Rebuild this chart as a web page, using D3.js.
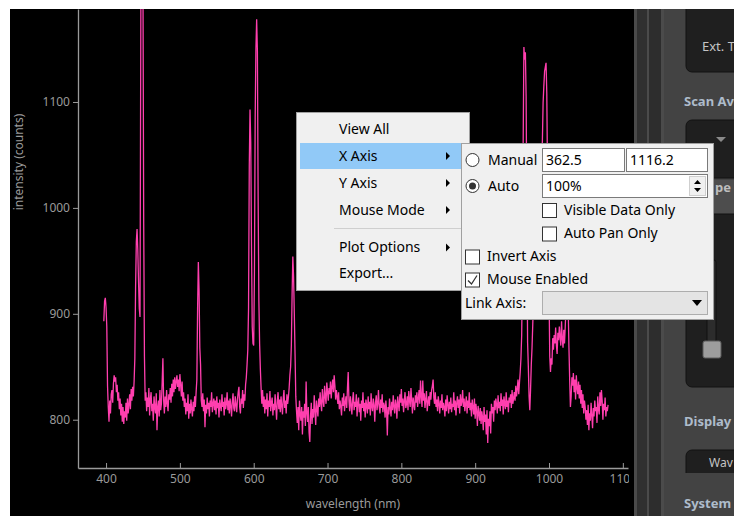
<!DOCTYPE html>
<meta charset="utf-8">
<style>
body { margin: 0; background: #fff; }
text { font-family: "Noto Sans", "DejaVu Sans", sans-serif; }
</style>
<body>
<script src="https://d3js.org/d3.v7.min.js"></script>
<script>

// spectrum, one value per nm starting at 397 nm
var wavelengthStart = 397, wavelengthStep = 1;
var intensity = [
  893, 912, 915, 906, 888, 832, 812, 798, 818, 806,   // 397
  824, 828, 816, 834, 842, 836, 840, 826, 833, 818,   // 407
  826, 810, 820, 804, 815, 798, 812, 796, 808, 802,   // 417
  816, 799, 820, 806, 814, 824, 810, 829, 818, 831,   // 427
  822, 836, 858, 925, 968, 980, 960, 930, 905, 897,   // 437
  1150, 1420, 1380, 1210, 985, 860, 818, 826, 808, 821, // 447
  812, 830, 804, 819, 826, 808, 815, 799, 822, 811,   // 457
  806, 825, 790, 812, 818, 803, 828, 809, 815, 835,   // 467
  858, 818, 806, 822, 812, 828, 815, 808, 824, 819,   // 477
  830, 816, 834, 822, 838, 826, 840, 829, 836, 842,   // 487
  831, 838, 827, 843, 833, 822, 836, 818, 826, 812,   // 497
  820, 805, 816, 808, 824, 801, 815, 806, 819, 810,   // 507
  803, 817, 808, 822, 812, 826, 838, 905, 949, 922,   // 517
  868, 852, 818, 812, 825, 808, 819, 793, 814, 806,   // 527
  821, 810, 816, 803, 818, 812, 826, 807, 815, 820,   // 537
  809, 818, 805, 822, 811, 816, 802, 819, 813, 808,   // 547
  824, 812, 817, 804, 821, 810, 815, 826, 809, 818,   // 557
  806, 820, 813, 803, 817, 825, 811, 808, 822, 814,   // 567
  807, 819, 826, 831, 812, 806, 820, 815, 828, 811,   // 577
  824, 818, 833, 840, 852, 866, 905, 1040, 1093, 1062, // 587
  965, 888, 872, 870, 940, 1085, 1150, 1178, 1148, 1010, // 597
  912, 872, 848, 830, 815, 828, 812, 822, 806, 819,   // 607
  810, 825, 803, 818, 812, 827, 808, 816, 821, 804,   // 617
  815, 809, 824, 812, 800, 818, 826, 810, 819, 807,   // 627
  822, 813, 805, 820, 828, 811, 818, 806, 824, 815,   // 637
  821, 830, 842, 850, 870, 918, 954, 935, 900, 862,   // 647
  822, 808, 797, 812, 790, 818, 805, 799, 812, 786,   // 657
  808, 802, 815, 794, 836, 806, 798, 812, 788, 779,   // 667
  804, 816, 796, 810, 802, 823, 808, 795, 818, 810,   // 677
  803, 820, 812, 826, 815, 808, 829, 818, 812, 832,   // 687
  822, 815, 835, 826, 818, 830, 824, 836, 820, 831,   // 697
  838, 826, 842, 832, 819, 828, 822, 815, 826, 810,   // 707
  818, 812, 804, 821, 813, 825, 808, 816, 822, 811,   // 717
  830, 845, 818, 808, 822, 814, 805, 819, 826, 809,   // 727
  817, 812, 824, 803, 816, 821, 807, 815, 799, 818,   // 737
  811, 826, 808, 816, 802, 819, 813, 806, 822, 810,   // 747
  817, 804, 825, 812, 808, 820, 814, 798, 816, 823,   // 757
  809, 815, 828, 812, 806, 819, 811, 824, 807, 816,   // 767
  813, 802, 818, 809, 785, 812, 805, 820, 811, 803,   // 777
  817, 809, 823, 812, 806, 819, 814, 801, 822, 815,   // 787
  808, 824, 816, 829, 813, 820, 807, 818, 826, 811,   // 797
  815, 822, 809, 827, 818, 812, 830, 819, 806, 821,   // 807
  814, 809, 823, 816, 826, 812, 820, 828, 815, 837,   // 817
  822, 812, 837, 818, 825, 811, 819, 827, 808, 816,   // 827
  822, 813, 826, 819, 828, 832, 838, 821, 815, 826,   // 837
  812, 819, 808, 822, 815, 806, 818, 811, 824, 809,   // 847
  816, 812, 803, 819, 808, 823, 814, 806, 817, 810,   // 857
  821, 807, 815, 812, 826, 809, 818, 804, 816, 822,   // 867
  811, 819, 806, 824, 813, 817, 828, 812, 820, 808,   // 877
  815, 822, 806, 818, 811, 826, 809, 816, 803, 819,   // 887
  812, 805, 820, 801, 815, 808, 794, 813, 806, 799,   // 897
  811, 796, 808, 802, 790, 812, 798, 805, 786, 809,   // 907
  778, 801, 794, 808, 787, 815, 806, 812, 798, 818,   // 917
  809, 820, 814, 806, 823, 811, 817, 808, 825, 813,   // 927
  819, 805, 822, 815, 810, 826, 812, 818, 807, 821,   // 937
  816, 824, 811, 828, 815, 820, 826, 818, 832, 822,   // 947
  829, 838, 824, 835, 845, 858, 880, 940, 1060, 1152, // 957
  1140, 1147, 1105, 990, 873, 850, 822, 809, 828, 852, // 967
  868, 890, 912, 935, 960, 985, 1005, 1020, 1032, 1041, // 977
  1048, 1052, 1055, 1058, 1062, 1099, 1115, 1129, 1133, 1137, // 987
  1108, 1030, 960, 920, 860, 845, 858, 852, 877, 866, // 997
  880, 872, 887, 870, 862, 882, 875, 888, 878, 870,   // 1007
  893, 876, 868, 885, 872, 888, 905, 932, 940, 905,   // 1017
  868, 838, 812, 822, 840, 832, 844, 826, 838, 819,   // 1027
  842, 830, 824, 836, 820, 833, 815, 828, 811, 824,   // 1037
  806, 818, 812, 800, 809, 795, 814, 790, 806, 799,   // 1047
  816, 804, 792, 811, 803, 818, 808, 812, 797, 822,   // 1057
  810, 805, 826, 813, 828, 818, 800, 815, 809, 821,   // 1067
  803, 812, 808, 814                                  // 1077
];

var xTicks = [400, 500, 600, 700, 800, 900, 1000, 1100];
var yTicks = [800, 900, 1000, 1100];
var xDomain = [362, 1107];
var yDomain = [754.4, 1187.8];

var menuItems = ["View All", "X Axis", "Y Axis", "Mouse Mode", "Plot Options", "Export..."];
var menuArrows = ["X Axis", "Y Axis", "Mouse Mode", "Plot Options"];
var manualRange = ["362.5", "1116.2"];
var autoPercent = "100%";
var panelLabels = ["Scan Av", "Display", "System"];

var svg = d3.select("body").append("svg")
    .attr("width", 734)
    .attr("height", 516);

svg.append("rect").attr("width", 734).attr("height", 516).attr("fill", "#fff");
svg.append("rect").attr("x", 10).attr("y", 9).attr("width", 624).attr("height", 507).attr("fill", "#000");

var x = d3.scaleLinear().domain(xDomain).range([78, 628]);
var y = d3.scaleLinear().domain(yDomain).range([468, 9]);

var defs = svg.append("defs");
defs.append("clipPath").attr("id", "plotclip")
  .append("rect").attr("x", 78).attr("y", 9).attr("width", 555).attr("height", 459);
// local coords of the x axis group (translated to y=468)
defs.append("clipPath").attr("id", "xlabclip")
  .append("rect").attr("x", 70).attr("y", -10).attr("width", 559).attr("height", 40);
defs.append("clipPath").attr("id", "panelclip")
  .append("rect").attr("x", 634).attr("y", 9).attr("width", 100).attr("height", 507);

// spectrum
var spectrum = intensity.map(function(v, i) {
  return {wl: wavelengthStart + i * wavelengthStep, v: v};
});
var line = d3.line()
  .x(function(d) { return x(d.wl); })
  .y(function(d) { return y(d.v); });

svg.append("g").attr("clip-path", "url(#plotclip)")
  .append("path")
  .datum(spectrum)
  .attr("d", line)
  .attr("fill", "none")
  .attr("stroke", "#ff3fae")
  .attr("stroke-width", 1.3);

// axes
var axisCol = "#9a9a9a";
var yAxis = svg.append("g")
  .attr("transform", "translate(78,0)")
  .call(d3.axisLeft(y).tickValues(yTicks).tickSizeInner(5).tickSizeOuter(0).tickPadding(3).tickFormat(d3.format("d")));
var xAxis = svg.append("g")
  .attr("transform", "translate(0,468)")
  .attr("clip-path", "url(#xlabclip)")
  .call(d3.axisBottom(x).tickValues(xTicks).tickSizeInner(-5).tickSizeOuter(0).tickPadding(6).tickFormat(d3.format("d")));

[xAxis, yAxis].forEach(function(a) {
  a.select(".domain").attr("stroke", axisCol).attr("stroke-width", 1.3);
  a.selectAll(".tick line").attr("stroke", axisCol);
  a.selectAll(".tick text").attr("fill", axisCol).style("font-size", "12px")
    .style("font-family", "'Noto Sans', sans-serif");
});

svg.append("text")
  .attr("transform", "translate(23,162) rotate(-90)")
  .attr("text-anchor", "middle")
  .attr("fill", axisCol)
  .style("font-size", "12px")
  .text("intensity (counts)");

svg.append("text")
  .attr("x", 353).attr("y", 508)
  .attr("text-anchor", "middle")
  .attr("fill", axisCol)
  .style("font-size", "12px")
  .text("wavelength (nm)");

// right side panel
var panel = svg.append("g").attr("clip-path", "url(#panelclip)");
panel.append("rect").attr("x", 634).attr("y", 9).attr("width", 100).attr("height", 507).attr("fill", "#434343");
[[634, 3, "#4a4a4a"], [637, 10, "#303030"], [647, 2, "#4b4b4b"], [649, 12, "#2d2d2d"], [661, 3, "#4b4b4b"]]
  .forEach(function(s) {
    panel.append("rect").attr("x", s[0]).attr("y", 9).attr("width", s[1]).attr("height", 507).attr("fill", s[2]);
  });

function darkBox(x0, y0, w, h) {
  panel.append("rect").attr("x", x0).attr("y", y0).attr("width", w).attr("height", h)
    .attr("rx", 6).attr("fill", "#1f1f1f").attr("stroke", "#121212");
}
darkBox(686, -10, 60, 82);
darkBox(686, 120, 60, 58);
panel.append("rect").attr("x", 690).attr("y", 180).attr("width", 50).attr("height", 34).attr("fill", "#4d4d4d");
darkBox(686, 214, 60, 173);
darkBox(686, 450, 60, 40);
panel.append("rect").attr("x", 664).attr("y", 473).attr("width", 70).attr("height", 43).attr("fill", "#434343");

panel.append("text").attr("x", 702).attr("y", 51).attr("fill", "#c4c4c4").style("font-size", "13px").text("Ext. T");
panel.append("path").attr("d", "M716,137 L726,137 L721,142 Z").attr("fill", "#8a8a8a");
panel.append("text").attr("x", 715).attr("y", 192).attr("fill", "#bdbdbd").style("font-size", "13px").style("font-weight", "bold").text("pe");
panel.append("rect").attr("x", 707).attr("y", 260).attr("width", 9).attr("height", 82).attr("rx", 2)
  .attr("fill", "#2c2c2c").attr("stroke", "#101010");
panel.append("rect").attr("x", 703).attr("y", 341).attr("width", 18).attr("height", 17).attr("rx", 2)
  .attr("fill", "#9d9d9d").attr("stroke", "#5c5c5c");
panel.append("text").attr("x", 709).attr("y", 467).attr("fill", "#c4c4c4").style("font-size", "12px").text("Wav");

panel.selectAll(".plabel")
  .data(panelLabels)
  .enter().append("text")
  .attr("x", 684)
  .attr("y", function(d, i) { return [106, 426, 508][i]; })
  .attr("fill", "#aebccb")
  .style("font-size", "13px")
  .style("font-weight", "bold")
  .text(function(d) { return d; });

// context menu
var menu = svg.append("g").style("font-size", "14px");
menu.append("rect").attr("x", 296.5).attr("y", 112.5).attr("width", 173).attr("height", 178)
  .attr("fill", "#f0f0f0").attr("stroke", "#a0a0a0");
menu.append("rect").attr("x", 300).attr("y", 143).attr("width", 162).attr("height", 26).attr("fill", "#91c9f7");

var itemY = [129, 156, 183, 210, 247.5, 273.5];
menu.selectAll(".item")
  .data(menuItems)
  .enter().append("text")
  .attr("x", 339)
  .attr("y", function(d, i) { return itemY[i]; })
  .attr("dy", "0.35em")
  .attr("fill", "#000")
  .text(function(d) { return d; });
menu.selectAll(".arrow")
  .data(menuArrows)
  .enter().append("path")
  .attr("d", function(d) {
    var cy = itemY[menuItems.indexOf(d)];
    return "M446," + (cy - 4) + " L450," + cy + " L446," + (cy + 4) + " Z";
  })
  .attr("fill", "#000");
menu.append("line").attr("x1", 334).attr("x2", 466).attr("y1", 228.5).attr("y2", 228.5).attr("stroke", "#cfcfcf");

// X Axis submenu
var sub = svg.append("g").style("font-size", "14px");
sub.append("rect").attr("x", 461.5).attr("y", 143.5).attr("width", 252).attr("height", 176)
  .attr("fill", "#f0f0f0").attr("stroke", "#a0a0a0");

sub.append("circle").attr("cx", 472.5).attr("cy", 160).attr("r", 6.5).attr("fill", "#fff").attr("stroke", "#333");
sub.append("circle").attr("cx", 472.5).attr("cy", 186).attr("r", 6.5).attr("fill", "#fff").attr("stroke", "#333");
sub.append("circle").attr("cx", 472.5).attr("cy", 186).attr("r", 3.5).attr("fill", "#333");

function subText(t, x0, cy) {
  sub.append("text").attr("x", x0).attr("y", cy).attr("dy", "0.35em").attr("fill", "#000").text(t);
}
subText("Manual", 488, 160);
subText("Auto", 488, 186);

function field(x0, y0, w, h, t) {
  sub.append("rect").attr("x", x0 + 0.5).attr("y", y0 + 0.5).attr("width", w).attr("height", h)
    .attr("fill", "#fff").attr("stroke", "#7a7a7a");
  subText(t, x0 + 4, y0 + h / 2 + 0.5);
}
field(542, 148, 82, 23, manualRange[0]);
field(626, 148, 81, 23, manualRange[1]);
field(542, 174, 165, 23, autoPercent);
sub.append("rect").attr("x", 689.5).attr("y", 176.5).attr("width", 16).attr("height", 19)
  .attr("fill", "#f0f0f0").attr("stroke", "#cfcfcf");
sub.append("path").attr("d", "M694,184 L697.5,180 L701,184 Z M694,188 L697.5,192 L701,188 Z").attr("fill", "#000");

function checkbox(x0, cy, t, checked) {
  sub.append("rect").attr("x", x0 + 0.5).attr("y", cy - 7 + 0.5).attr("width", 14).attr("height", 14)
    .attr("fill", "#fff").attr("stroke", "#333");
  if (checked) {
    sub.append("path").attr("d", "M" + (x0 + 3) + "," + (cy + 1) + " L" + (x0 + 6.5) + "," + (cy + 4.5) +
      " L" + (x0 + 12) + "," + (cy - 4)).attr("fill", "none").attr("stroke", "#333").attr("stroke-width", 1.3);
  }
  subText(t, x0 + 22, cy);
}
checkbox(542, 210, "Visible Data Only", false);
checkbox(542, 233.5, "Auto Pan Only", false);
checkbox(465, 256.5, "Invert Axis", false);
checkbox(465, 279.5, "Mouse Enabled", true);

subText("Link Axis:", 465, 303);
sub.append("rect").attr("x", 542.5).attr("y", 291.5).attr("width", 165).attr("height", 23)
  .attr("fill", "#e4e4e4").attr("stroke", "#adadad");
sub.append("path").attr("d", "M692,300 L702,300 L697,306 Z").attr("fill", "#000");

</script>
</body>
